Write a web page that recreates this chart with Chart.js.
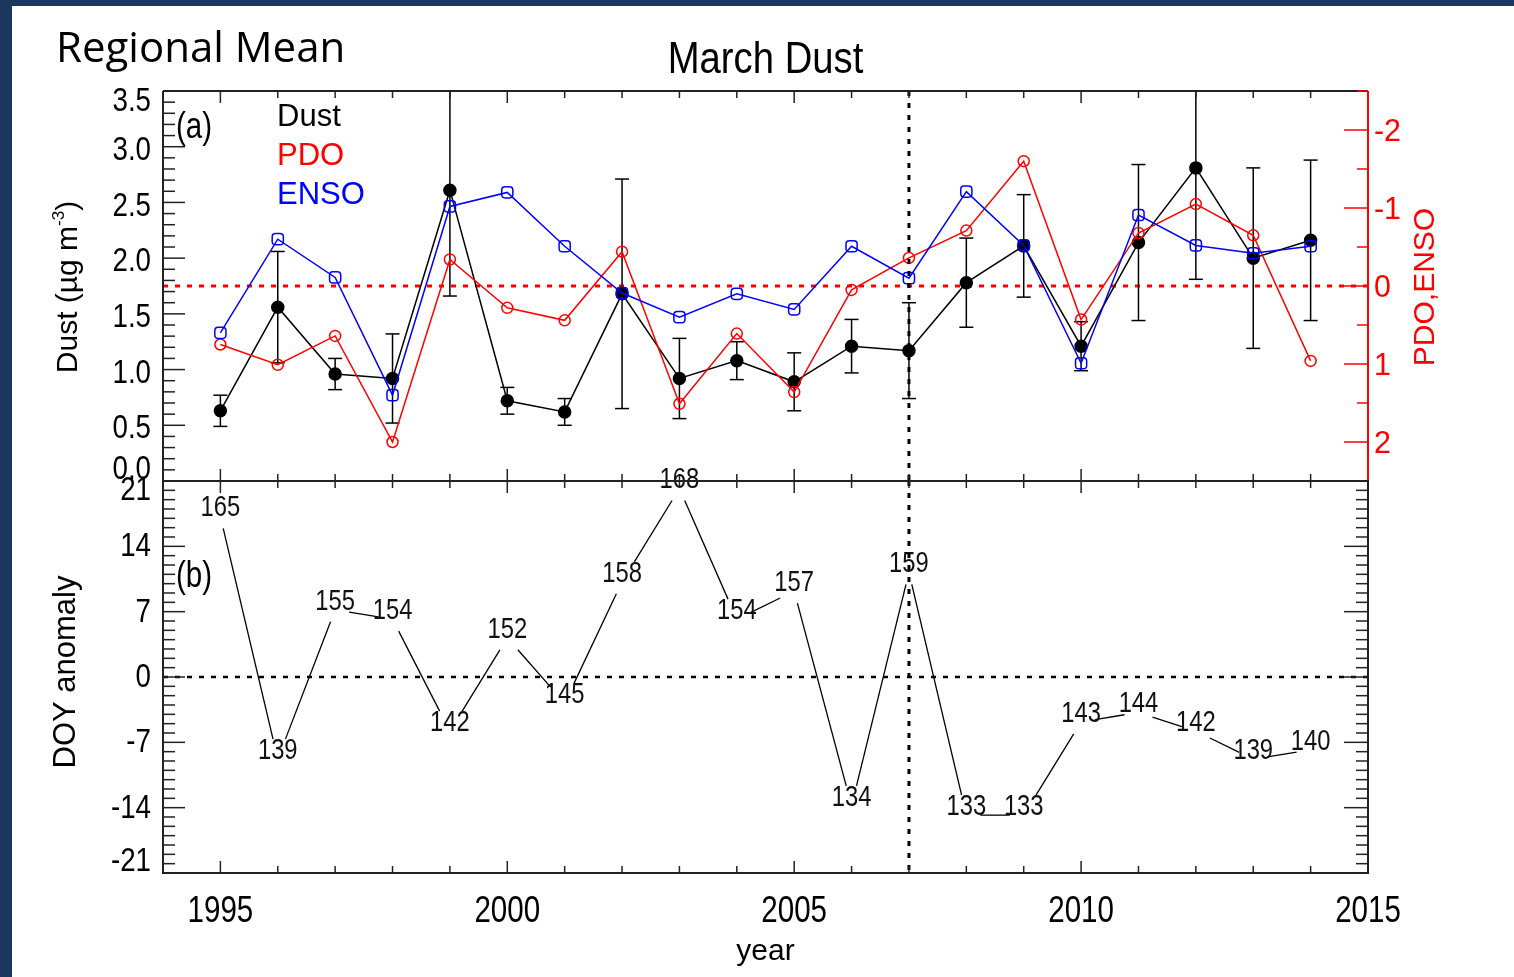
<!DOCTYPE html>
<html>
<head>
<meta charset="utf-8">
<title>March Dust - Regional Mean</title>
<script src="https://cdn.jsdelivr.net/npm/chart.js@4.4.1/dist/chart.umd.min.js"></script>
<style>
    html, body { margin: 0; padding: 0; }
    body { width: 1514px; height: 977px; background: #1c375e; position: relative; overflow: hidden; }
    #sheet { position: absolute; left: 12px; top: 6px; right: 0; bottom: 0; background: #ffffff; }
    .layer { position: absolute; left: 0; top: 0; }
</style>
</head>
<body>
<div id="sheet"></div>
<canvas id="dustChart" class="layer" width="1514" height="977"></canvas>
<canvas id="doyChart" class="layer" width="1514" height="977"></canvas>
<script>
// Data
const years = [1995, 1996, 1997, 1998, 1999, 2000, 2001, 2002, 2003, 2004,
               2005, 2006, 2007, 2008, 2009, 2010, 2011, 2012, 2013, 2014];
const dust = [0.63, 1.56, 0.96, 0.92, 2.61, 0.72, 0.62, 1.68, 0.92, 1.08,
              0.89, 1.21, 1.17, 1.78, 2.11, 1.21, 2.14, 2.81, 2.00, 2.16];
const dustErr = [0.14, 0.50, 0.14, 0.40, 0.95, 0.12, 0.12, 1.03, 0.36, 0.17,
                 0.26, 0.24, 0.43, 0.40, 0.46, 0.22, 0.70, 1.00, 0.81, 0.72];
const pdo = [0.75, 1.01, 0.64, 2.00, -0.34, 0.28, 0.44, -0.44, 1.51, 0.61,
             1.36, 0.05, -0.36, -0.71, -1.60, 0.43, -0.68, -1.05, -0.65, 0.96];
const enso = [0.60, -0.60, -0.11, 1.40, -1.02, -1.20, -0.51, 0.09, 0.40, 0.10,
              0.30, -0.51, -0.10, -1.21, -0.52, 0.99, -0.91, -0.52, -0.42, -0.51];
const doy = [165, 139, 155, 154, 142, 152, 145, 158, 168, 154,
             157, 134, 159, 133, 133, 143, 144, 142, 139, 140];

// Tick labels
const dustTicks = ['0.0', '0.5', '1.0', '1.5', '2.0', '2.5', '3.0', '3.5'];
const indexTicks = [-2, -1, 0, 1, 2];
const doyTicks = [-21, -14, -7, 0, 7, 14, 21];
const yearTicks = [1995, 2000, 2005, 2010, 2015];
const markYear = 2007;

// DOY anomaly relative to the 1995-2014 mean
const doyMean = doy.reduce((sum, d) => sum + d, 0) / doy.length;
const doyAnomaly = doy.map(d => d - doyMean);

const REGULAR = "'Liberation Sans', Arial, sans-serif";
const RED = '#ff0000';
const BLUE = '#0000ff';
const INK = '#000000';
const FRAME = '#222222';

// Label gap around each DOY point (px)
const GAP_HALF_W = 14, GAP_ABOVE = 20, GAP_BELOW = 12;

function line(ctx, x1, y1, x2, y2) {
    ctx.beginPath();
    ctx.moveTo(x1, y1);
    ctx.lineTo(x2, y2);
    ctx.stroke();
}

// squeeze < 1 gives the condensed look of the original plot fonts
function label(ctx, str, x, y, font, color, align, baseline, squeeze) {
    ctx.save();
    ctx.translate(x, y);
    ctx.scale(squeeze || 1, 1);
    ctx.font = font;
    ctx.fillStyle = color;
    ctx.textAlign = align || 'center';
    ctx.textBaseline = baseline || 'alphabetic';
    ctx.fillText(str, 0, 0);
    ctx.restore();
}

function rotatedLabel(ctx, str, x, y, font, color) {
    ctx.save();
    ctx.translate(x, y);
    ctx.rotate(-Math.PI / 2);
    label(ctx, str, 0, 0, font, color, 'center', 'alphabetic');
    ctx.restore();
}

// inward ticks on a vertical edge: every step, long ones every `every` steps
function yTicks(ctx, scale, x, min, step, count, every, longLen, shortLen, dir) {
    for (let k = 0; k <= count; k++) {
        const y = scale.getPixelForValue(min + k * step);
        const len = k % every === 0 ? longLen : shortLen;
        line(ctx, x, y, x + dir * len, y);
    }
}

// inward ticks on a horizontal edge, one per year
function xTicks(ctx, scale, y, dir) {
    for (let yr = 1995; yr <= 2015; yr++) {
        const x = scale.getPixelForValue(yr);
        const len = yr % 5 === 0 ? 12 : 7;
        line(ctx, x, y, x, y + dir * len);
    }
}

function markLine(ctx, chart) {
    const a = chart.chartArea;
    const x = chart.scales.x.getPixelForValue(markYear);
    ctx.save();
    ctx.strokeStyle = INK;
    ctx.lineWidth = 3;
    ctx.setLineDash([5, 7]);
    line(ctx, x, a.top, x, a.bottom);
    ctx.restore();
}

// fraction of a segment hidden by the label box around its starting point
function gapExit(dx, dy) {
    const tx = dx !== 0 ? GAP_HALF_W / Math.abs(dx) : Infinity;
    const ty = dy > 0 ? GAP_BELOW / dy : (dy < 0 ? GAP_ABOVE / -dy : Infinity);
    return Math.min(tx, ty);
}

// Top panel: zero line, error bars, axes and text
const dustFrame = {
    id: 'dustFrame',
    beforeDatasetsDraw(chart) {
        const { ctx, chartArea: a, scales } = chart;
        ctx.save();
        ctx.strokeStyle = RED;
        ctx.lineWidth = 3;
        ctx.setLineDash([5, 7]);
        const y0 = scales.y2.getPixelForValue(0);
        line(ctx, a.left, y0, a.right, y0);
        ctx.setLineDash([]);

        ctx.beginPath();
        ctx.rect(a.left, a.top, a.right - a.left, a.bottom - a.top);
        ctx.clip();
        ctx.strokeStyle = INK;
        ctx.lineWidth = 1.5;
        years.forEach((yr, i) => {
            const x = scales.x.getPixelForValue(yr);
            const hi = scales.y.getPixelForValue(dust[i] + dustErr[i]);
            const lo = scales.y.getPixelForValue(dust[i] - dustErr[i]);
            line(ctx, x, hi, x, lo);
            line(ctx, x - 7, hi, x + 7, hi);
            line(ctx, x - 7, lo, x + 7, lo);
        });
        ctx.restore();
    },
    afterDatasetsDraw(chart) {
        const { ctx, chartArea: a, scales } = chart;
        markLine(ctx, chart);

        ctx.save();
        ctx.lineWidth = 2;
        ctx.strokeStyle = FRAME;
        line(ctx, a.left, a.top, a.right, a.top);
        line(ctx, a.left, a.bottom, a.right, a.bottom);
        line(ctx, a.left, a.top, a.left, a.bottom);
        ctx.lineWidth = 1.5;
        xTicks(ctx, scales.x, a.top, 1);
        xTicks(ctx, scales.x, a.bottom, -1);
        yTicks(ctx, scales.y, a.left, 0, 0.1, 35, 5, 22, 12, 1);

        ctx.strokeStyle = RED;
        ctx.lineWidth = 2;
        line(ctx, a.right, a.top, a.right, a.bottom);
        ctx.lineWidth = 1.5;
        yTicks(ctx, scales.y2, a.right, -2.5, 0.5, 10, 2, 11, 24, -1);

        // left tick labels, end labels pulled inside the panel
        dustTicks.forEach((t, i) => {
            let y = scales.y.getPixelForValue(parseFloat(t)) + 4;
            if (i === 0) y -= 15;
            if (i === dustTicks.length - 1) y += 7;
            label(ctx, t, a.left - 12, y, '33px ' + REGULAR, INK, 'right', 'middle', 0.84);
        });
        indexTicks.forEach(v => {
            label(ctx, String(v), a.right + 6, scales.y2.getPixelForValue(v) + 2,
                  '32px ' + REGULAR, RED, 'left', 'middle', 0.95);
        });

        // titles
        label(ctx, 'Regional Mean', 56, 62, '42px "Open Sans", sans-serif', INK, 'left');
        label(ctx, 'March Dust', (a.left + a.right) / 2, 73, '45px ' + REGULAR, INK, 'center', 'alphabetic', 0.85);
        label(ctx, '(a)', 176, 138, '36px ' + REGULAR, INK, 'left', 'alphabetic', 0.82);

        // y title with superscript
        ctx.save();
        ctx.translate(77, 287);
        ctx.rotate(-Math.PI / 2);
        ctx.font = '30px ' + REGULAR;
        const mainW = ctx.measureText('Dust (\u00b5g m').width;
        const closeW = ctx.measureText(')').width;
        ctx.font = '17px ' + REGULAR;
        const supW = ctx.measureText('-3').width;
        const x = -(mainW + supW + closeW) / 2;
        label(ctx, 'Dust (\u00b5g m', x, 0, '30px ' + REGULAR, INK, 'left');
        label(ctx, '-3', x + mainW, -13, '17px ' + REGULAR, INK, 'left');
        label(ctx, ')', x + mainW + supW, 0, '30px ' + REGULAR, INK, 'left');
        ctx.restore();

        rotatedLabel(ctx, 'PDO,ENSO', 1434, 287, '30px ' + REGULAR, RED);

        // legend as coloured words
        label(ctx, 'Dust', 277, 126, '31px ' + REGULAR, INK, 'left');
        label(ctx, 'PDO', 277, 165, '31px ' + REGULAR, RED, 'left');
        label(ctx, 'ENSO', 277, 204, '31px ' + REGULAR, BLUE, 'left');
        ctx.restore();
    }
};

// Bottom panel: gapped DOY trace with value labels, axes and text
const doyFrame = {
    id: 'doyFrame',
    beforeDatasetsDraw(chart) {
        const { ctx, chartArea: a, scales } = chart;
        ctx.save();
        ctx.strokeStyle = INK;
        ctx.lineWidth = 2.5;
        ctx.setLineDash([5, 7]);
        const y0 = scales.y.getPixelForValue(0);
        line(ctx, a.left, y0, a.right, y0);
        ctx.restore();
    },
    afterDatasetsDraw(chart) {
        const { ctx, chartArea: a, scales } = chart;
        const pts = chart.getDatasetMeta(0).data;

        ctx.save();
        ctx.strokeStyle = INK;
        ctx.lineWidth = 1.3;
        for (let i = 0; i < pts.length - 1; i++) {
            const p = pts[i], q = pts[i + 1];
            const dx = q.x - p.x, dy = q.y - p.y;
            const t0 = gapExit(dx, dy);
            const t1 = gapExit(-dx, -dy);
            if (t0 + t1 < 1) {
                line(ctx, p.x + dx * t0, p.y + dy * t0, q.x - dx * t1, q.y - dy * t1);
            }
        }
        pts.forEach((p, i) => label(ctx, String(doy[i]), p.x, p.y, '29px ' + REGULAR, '#111111', 'center', 'alphabetic', 0.82));
        ctx.restore();

        markLine(ctx, chart);

        ctx.save();
        ctx.strokeStyle = FRAME;
        ctx.lineWidth = 2;
        ctx.strokeRect(a.left, a.top, a.right - a.left, a.bottom - a.top);
        ctx.lineWidth = 1.5;
        xTicks(ctx, scales.x, a.top, 1);
        xTicks(ctx, scales.x, a.bottom, -1);
        yTicks(ctx, scales.y, a.left, -21, 1, 42, 7, 22, 12, 1);
        yTicks(ctx, scales.y, a.right, -21, 1, 42, 7, 24, 12, -1);

        doyTicks.forEach((v, i) => {
            let y = scales.y.getPixelForValue(v) + 1;
            if (i === 0) y -= 12;
            if (i === doyTicks.length - 1) y += 9;
            label(ctx, String(v), a.left - 12, y, '33px ' + REGULAR, INK, 'right', 'middle', 0.84);
        });
        yearTicks.forEach(yr => {
            label(ctx, String(yr), scales.x.getPixelForValue(yr), 922, '36px ' + REGULAR, INK, 'center', 'alphabetic', 0.82);
        });

        label(ctx, 'year', (a.left + a.right) / 2, 960, '30px ' + REGULAR, INK);
        rotatedLabel(ctx, 'DOY anomaly', 75, 672, '31px ' + REGULAR, INK);
        label(ctx, '(b)', 176, 587, '36px ' + REGULAR, INK, 'left', 'alphabetic', 0.82);
        ctx.restore();
    }
};

const baseOptions = {
    responsive: false,
    animation: false,
    events: [],
    plugins: { legend: { display: false }, tooltip: { enabled: false } }
};

// Top panel: dust (left axis) and PDO / ENSO (reversed right axis)
const dustChart = new Chart(document.getElementById('dustChart'), {
    type: 'line',
    data: {
        datasets: [
            {
                label: 'Dust',
                data: years.map((yr, i) => ({ x: yr, y: dust[i] })),
                yAxisID: 'y',
                borderColor: INK,
                borderWidth: 1.5,
                pointStyle: 'circle',
                pointRadius: 6,
                pointBackgroundColor: INK,
                pointBorderColor: INK,
                order: 3
            },
            {
                label: 'PDO',
                data: years.map((yr, i) => ({ x: yr, y: pdo[i] })),
                yAxisID: 'y2',
                borderColor: RED,
                borderWidth: 1.5,
                pointStyle: 'circle',
                pointRadius: 5.5,
                pointBorderWidth: 1.5,
                pointBackgroundColor: 'rgba(0,0,0,0)',
                pointBorderColor: RED,
                order: 2
            },
            {
                label: 'ENSO',
                data: years.map((yr, i) => ({ x: yr, y: enso[i] })),
                yAxisID: 'y2',
                borderColor: BLUE,
                borderWidth: 1.5,
                pointStyle: 'rectRounded',
                pointRadius: 6.5,
                pointBorderWidth: 1.5,
                pointBackgroundColor: 'rgba(0,0,0,0)',
                pointBorderColor: BLUE,
                order: 1
            }
        ]
    },
    options: {
        ...baseOptions,
        layout: { padding: { left: 163, top: 91, right: 146, bottom: 496 } },
        scales: {
            x: { type: 'linear', min: 1994, max: 2015, display: false },
            y: { type: 'linear', min: 0, max: 3.5, display: false },
            y2: { type: 'linear', min: -2.5, max: 2.5, reverse: true, display: false }
        }
    },
    plugins: [dustFrame]
});

// Bottom panel: day-of-year anomaly
const doyChart = new Chart(document.getElementById('doyChart'), {
    type: 'line',
    data: {
        datasets: [{
            label: 'DOY anomaly',
            data: years.map((yr, i) => ({ x: yr, y: doyAnomaly[i] })),
            showLine: false,
            pointRadius: 0
        }]
    },
    options: {
        ...baseOptions,
        layout: { padding: { left: 163, top: 481, right: 146, bottom: 104 } },
        scales: {
            x: { type: 'linear', min: 1994, max: 2015, display: false },
            y: { type: 'linear', min: -21, max: 21, display: false }
        }
    },
    plugins: [doyFrame]
});
</script>
</body>
</html>
